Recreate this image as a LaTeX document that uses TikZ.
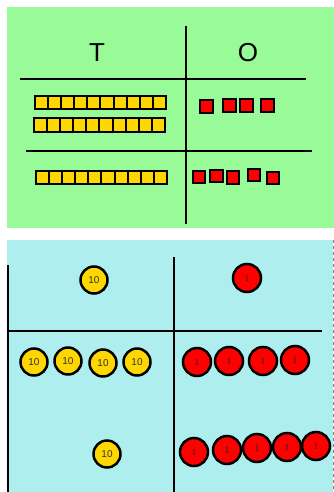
\documentclass[tikz,border=0pt]{standalone}
\usepackage{fontspec}
\setmainfont{Liberation Sans}
\newfontfamily\coinserif{Liberation Serif}
\definecolor{greenbg}{HTML}{98FB98}
\definecolor{bluebg}{HTML}{AFEEEE}
\definecolor{gold}{HTML}{FFD700}
\definecolor{redc}{HTML}{FF0000}
\tikzset{
  gridline/.style={line width=2pt, black},
  tensq/.style={draw=black, line width=2pt, fill=gold, minimum width=13.1pt, minimum height=13pt, inner sep=0pt, outer sep=0pt},
  onesq/.style={draw=black, line width=2pt, fill=redc, minimum size=12.5pt, inner sep=0pt},
  tencoin/.style={circle, draw=black, line width=2.5pt, fill=gold, minimum size=27pt, inner sep=0pt, font=\fontsize{10}{10}\selectfont, text=black!80},
  onecoin/.style={circle, draw=black, line width=2.5pt, fill=redc, minimum size=28pt, inner sep=0pt, font=\coinserif\fontsize{9.5}{9.5}\selectfont, text=black!85},
  head/.style={font=\fontsize{26}{26}\selectfont, inner sep=0pt}
}
\begin{document}
\begin{tikzpicture}[x=1pt,y=-1pt]
\useasboundingbox (0,0) rectangle (334,492);
% panels
\fill[greenbg] (7,7) rectangle (334,228);
\fill[bluebg] (7,240) rectangle (333,492);
\draw[gray, line width=0.5pt, dashed] (333,240) -- (333,492);
% top grid
\coordinate (tv1) at (186,26); \coordinate (tv2) at (186,224);
\coordinate (th1a) at (20,79); \coordinate (th1b) at (306,79);
\coordinate (th2a) at (26,151); \coordinate (th2b) at (312,151);
\draw[gridline] (tv1) -- (tv2);
\draw[gridline] (th1a) -- (th1b);
\draw[gridline] (th2a) -- (th2b);
\node[head] (T) at (97,53) {T};
\node[head] (O) at (248,53) {O};
% ten rods
\foreach \i in {0,...,9} {
  \node[tensq] (ra\i) at (41.5+\i*13.1,103) {};
  \node[tensq] (rb\i) at (40.5+\i*13.1,125) {};
  \node[tensq] (rc\i) at (42.5+\i*13.1,177) {};
}
% ones squares
\node[onesq] (sa1) at (206.5,106.5) {};
\node[onesq] (sa2) at (229.5,105.5) {};
\node[onesq] (sa3) at (246.5,105.5) {};
\node[onesq] (sa4) at (267.5,105.5) {};
\node[onesq] (sb1) at (199,177) {};
\node[onesq] (sb2) at (216.5,176) {};
\node[onesq] (sb3) at (233,177.5) {};
\node[onesq] (sb4) at (254,175) {};
\node[onesq] (sb5) at (273,178) {};
% bottom grid
\coordinate (bl1) at (8,265); \coordinate (bl2) at (8,492);
\coordinate (bm1) at (174,257); \coordinate (bm2) at (174,492);
\coordinate (bh1) at (8,331); \coordinate (bh2) at (322,331);
\draw[gridline, line width=2.4pt] (bl1) -- (bl2);
\draw[gridline, line width=2.4pt] (bm1) -- (bm2);
\draw[gridline, line width=2.4pt] (bh1) -- (bh2);
% coins
\node[tencoin] (c0) at (94,280) {10};
\node[tencoin] (c1) at (34,362) {10};
\node[tencoin] (c2) at (68,361) {10};
\node[tencoin] (c3) at (103,363) {10};
\node[tencoin] (c4) at (137,362) {10};
\node[tencoin] (c5) at (107,454) {10};
\node[onecoin] (d0) at (247,278) {1};
\node[onecoin] (d1) at (197,362) {1};
\node[onecoin] (d2) at (229,361) {1};
\node[onecoin] (d3) at (263,361) {1};
\node[onecoin] (d4) at (295,360) {1};
\node[onecoin] (e1) at (194,452) {1};
\node[onecoin] (e2) at (227,450) {1};
\node[onecoin] (e3) at (257,448) {1};
\node[onecoin] (e4) at (287,447) {1};
\node[onecoin] (e5) at (316,446) {1};
\end{tikzpicture}
\end{document}
